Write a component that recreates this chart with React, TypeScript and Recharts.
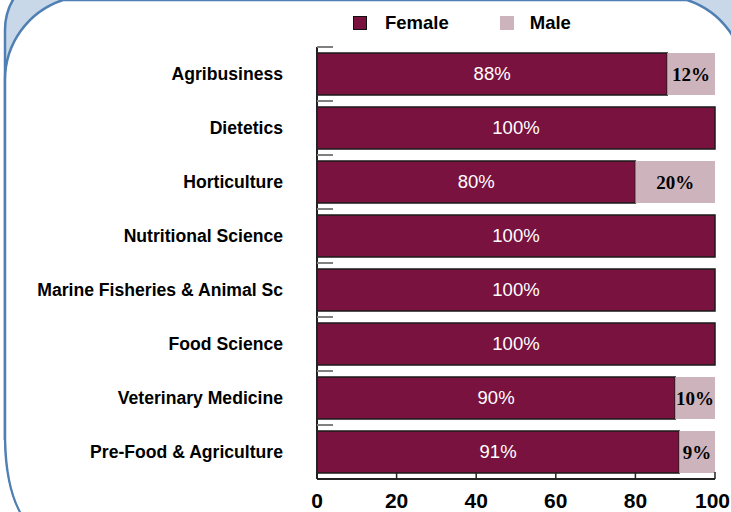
import { BarChart, Bar, XAxis, YAxis, LabelList } from "recharts"

const categories = [
  "Agribusiness",
  "Dietetics",
  "Horticulture",
  "Nutritional Science",
  "Marine Fisheries & Animal Sc",
  "Food Science",
  "Veterinary Medicine",
  "Pre-Food & Agriculture",
]
const female = [88, 100, 80, 100, 100, 100, 90, 91]
const male = [12, 0, 20, 0, 0, 0, 10, 9]
const xTicks = [0, 20, 40, 60, 80, 100]

const data = categories.map((name, i) => ({ name, female: female[i], male: male[i] }))

const W = 731
const H = 512
const TOP = 47
const X_AXIS_H = 33
const BAND = (H - TOP - X_AXIS_H) / categories.length

const FEMALE = "#7a123f"
const MALE = "#cdb4bc"
const SANS = "'Liberation Sans', Arial, sans-serif"
const SERIF = "'Liberation Serif', 'Times New Roman', serif"

const CategoryTick = (props: any) => {
  const { x, y, payload } = props
  return (
    <g>
      <line x1={x} x2={x + 16} y1={y - BAND / 2} y2={y - BAND / 2} stroke="#808080" strokeWidth={2} />
      <text x={x - 34} y={y} dy="0.35em" textAnchor="end" fontFamily={SANS} fontWeight="bold" fontSize={17.6} fill="#000">
        {payload.value}
      </text>
    </g>
  )
}

const ValueTick = (props: any) => {
  const { x, y, payload, index } = props
  // last label would run off the right edge, pin it to the border
  const last = index === xTicks.length - 1
  return (
    <g>
      <line x1={x} x2={x} y1={y - 7} y2={y} stroke="#222" strokeWidth={1.5} />
      <text
        x={last ? W - 1 : x}
        y={y + 29}
        textAnchor={last ? "end" : "middle"}
        fontFamily={SANS}
        fontWeight="bold"
        fontSize={21}
        fill="#000"
      >
        {payload.value}
      </text>
    </g>
  )
}

const FemaleLabel = (props: any) => {
  const { x, y, width, height, value } = props
  if (!value) return null
  return (
    <text x={x + width / 2} y={y + height / 2} dy="0.35em" textAnchor="middle" fontFamily={SANS} fontSize={18.5} fill="#fff">
      {value}%
    </text>
  )
}

const MaleLabel = (props: any) => {
  const { x, y, width, height, value } = props
  if (!value) return null
  return (
    <text x={x + width / 2} y={y + height / 2} dy="0.35em" textAnchor="middle" fontFamily={SERIF} fontWeight="bold" fontSize={19} fill="#000">
      {value}%
    </text>
  )
}

export default function App() {
  return (
    <div style={{ position: "absolute", left: 0, top: 0, width: W, height: H, background: "#fff", overflow: "hidden" }}>
      {/* frame */}
      <svg width={W} height={H} style={{ position: "absolute", left: 0, top: 0 }}>
        <rect x={5} y={-30} width={800} height={600} rx={60} fill="#c8d8e9" stroke="#4f7fb3" strokeWidth={2.5} />
        <path
          d="M 5 440 L 5 80 A 84 84 0 0 1 63 0 L 687 0 A 84 84 0 0 1 745 80 L 745 560 L 22 560 L 22 516 Q 6 490 5 440 Z"
          fill="#fff"
          stroke="#4f7fb3"
          strokeWidth={2.5}
        />
        <path d="M 0 440 L 3.8 440 Q 4.8 490 21 516 L 0 516 Z" fill="#fff" />
      </svg>

      {/* legend */}
      <div style={{ position: "absolute", left: 353, top: 12, display: "flex", alignItems: "center", fontFamily: SANS, fontWeight: "bold", fontSize: 18.5 }}>
        <span style={{ width: 12, height: 12, background: FEMALE, border: "1px solid #111", display: "inline-block" }} />
        <span style={{ marginLeft: 18 }}>Female</span>
        <span style={{ width: 14, height: 14, background: MALE, display: "inline-block", marginLeft: 51 }} />
        <span style={{ marginLeft: 16 }}>Male</span>
      </div>

      <div style={{ position: "absolute", left: 0, top: 0 }}>
        <BarChart
          width={W}
          height={H}
          data={data}
          layout="vertical"
          margin={{ top: TOP, right: 16, bottom: 0, left: 17 }}
          barSize={42}
        >
          <XAxis
            type="number"
            domain={[0, 100]}
            ticks={xTicks}
            height={X_AXIS_H}
            axisLine={{ stroke: "#222", strokeWidth: 2 }}
            tickLine={false}
            tickSize={0}
            tickMargin={0}
            tick={<ValueTick />}
            interval={0}
          />
          <YAxis
            type="category"
            dataKey="name"
            width={300}
            axisLine={{ stroke: "#222", strokeWidth: 2 }}
            tickLine={false}
            tickSize={0}
            tickMargin={0}
            tick={<CategoryTick />}
            interval={0}
          />
          <Bar dataKey="female" stackId="a" fill={FEMALE} stroke="#1a1a1a" strokeWidth={1.5} isAnimationActive={false}>
            <LabelList dataKey="female" content={<FemaleLabel />} />
          </Bar>
          <Bar dataKey="male" stackId="a" fill={MALE} isAnimationActive={false}>
            <LabelList dataKey="male" content={<MaleLabel />} />
          </Bar>
        </BarChart>
      </div>
    </div>
  )
}
